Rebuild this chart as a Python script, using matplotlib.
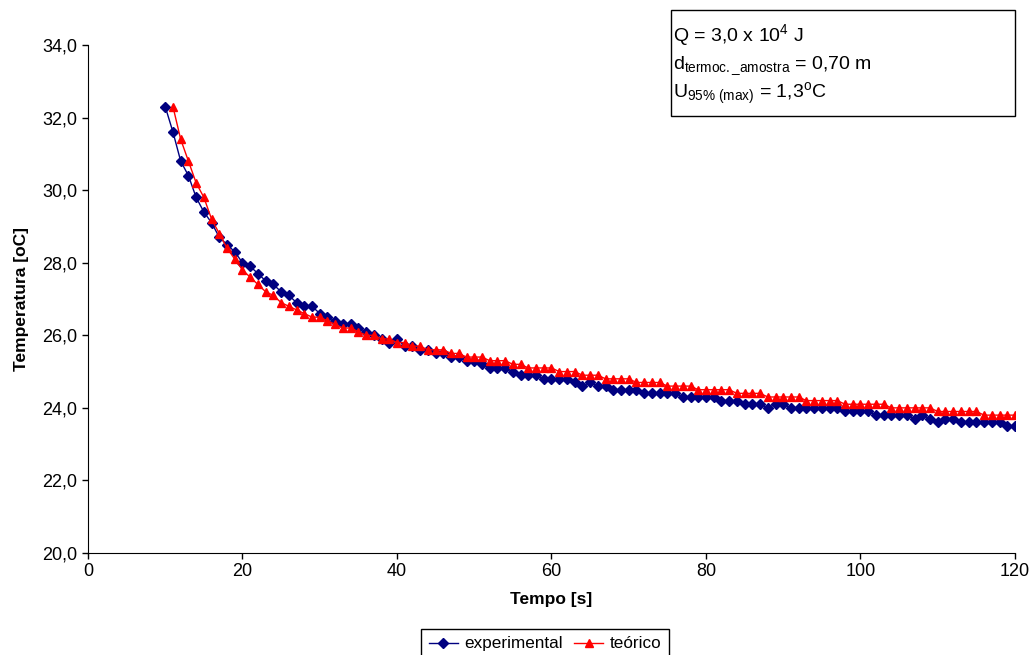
import matplotlib.pyplot as plt
from matplotlib.patches import Rectangle
from matplotlib.ticker import FuncFormatter

plt.rcParams['font.family'] = ['Liberation Sans', 'DejaVu Sans']
plt.rcParams['mathtext.fontset'] = 'custom'
plt.rcParams['mathtext.rm'] = 'Liberation Sans'
plt.rcParams['mathtext.it'] = 'Liberation Sans'

# tempo [s]
t_exp = list(range(10, 121))
t_teo = list(range(11, 121))

# temperatura experimental [oC], t = 10 .. 120
temp_exp = [32.3, 31.6, 30.8, 30.4, 29.8, 29.4, 29.1, 28.7, 28.5, 28.3,
            28.0, 27.9, 27.7, 27.5, 27.4, 27.2, 27.1, 26.9, 26.8, 26.8,
            26.6, 26.5, 26.4, 26.3, 26.3, 26.2, 26.1, 26.0, 25.9, 25.8,
            25.9, 25.7, 25.7, 25.6, 25.6, 25.5, 25.5, 25.4, 25.4, 25.3,
            25.3, 25.2, 25.1, 25.1, 25.1, 25.0, 24.9, 24.9, 24.9, 24.8,
            24.8, 24.8, 24.8, 24.7, 24.6, 24.7, 24.6, 24.6, 24.5, 24.5,
            24.5, 24.5, 24.4, 24.4, 24.4, 24.4, 24.4, 24.3, 24.3, 24.3,
            24.3, 24.3, 24.2, 24.2, 24.2, 24.1, 24.1, 24.1, 24.0, 24.1,
            24.1, 24.0, 24.0, 24.0, 24.0, 24.0, 24.0, 24.0, 23.9, 23.9,
            23.9, 23.9, 23.8, 23.8, 23.8, 23.8, 23.8, 23.7, 23.8, 23.7,
            23.6, 23.7, 23.7, 23.6, 23.6, 23.6, 23.6, 23.6, 23.6, 23.5,
            23.5]

# temperatura teorica [oC], t = 11 .. 120
temp_teo = [32.3, 31.4, 30.8, 30.2, 29.8, 29.2, 28.8, 28.4, 28.1,
            27.8, 27.6, 27.4, 27.2, 27.1, 26.9, 26.8, 26.7, 26.6, 26.5,
            26.5, 26.4, 26.3, 26.2, 26.2, 26.1, 26.0, 26.0, 25.9, 25.9,
            25.8, 25.8, 25.7, 25.7, 25.6, 25.6, 25.6, 25.5, 25.5, 25.4,
            25.4, 25.4, 25.3, 25.3, 25.3, 25.2, 25.2, 25.1, 25.1, 25.1,
            25.1, 25.0, 25.0, 25.0, 24.9, 24.9, 24.9, 24.8, 24.8, 24.8,
            24.8, 24.7, 24.7, 24.7, 24.7, 24.6, 24.6, 24.6, 24.6, 24.5,
            24.5, 24.5, 24.5, 24.5, 24.4, 24.4, 24.4, 24.4, 24.3, 24.3,
            24.3, 24.3, 24.3, 24.2, 24.2, 24.2, 24.2, 24.2, 24.1, 24.1,
            24.1, 24.1, 24.1, 24.1, 24.0, 24.0, 24.0, 24.0, 24.0, 24.0,
            23.9, 23.9, 23.9, 23.9, 23.9, 23.9, 23.8, 23.8, 23.8, 23.8,
            23.8]

fig = plt.figure(figsize=(10.34, 6.55), dpi=100)
ax = fig.add_axes([0.0851, 0.1557, 0.8965, 0.7756])

ax.plot(t_exp, temp_exp, color='#000080', marker='D', markersize=4.8,
        linewidth=1, label='experimental')
ax.plot(t_teo, temp_teo, color='#FF0000', marker='^', markersize=6.3,
        linewidth=1, label='teórico')

ax.set_xlim(0, 120)
ax.set_ylim(20, 34)
ax.set_xticks(range(0, 121, 20))
ax.set_yticks([20, 22, 24, 26, 28, 30, 32, 34])
ax.yaxis.set_major_formatter(FuncFormatter(lambda v, p: f'{v:.1f}'.replace('.', ',')))
ax.tick_params(labelsize=13, direction='out', length=4, width=1)
ax.spines['top'].set_visible(False)
ax.spines['right'].set_visible(False)

ax.set_xlabel('Tempo [s]', fontsize=12.5, fontweight='bold', labelpad=8)
ax.set_ylabel('Temperatura [oC]', fontsize=12.5, fontweight='bold', labelpad=10)

fig.legend(loc='upper center', bbox_to_anchor=(0.527, 0.04), ncol=2,
           fontsize=12.3, frameon=True, fancybox=False, edgecolor='black',
           framealpha=1, handlelength=1.7, handletextpad=0.35,
           columnspacing=0.7, borderpad=0.45, borderaxespad=0)

# caixa de texto
fig.patches.append(Rectangle((0.649, 0.8229), 0.3327, 0.1618,
                             transform=fig.transFigure, fill=False,
                             edgecolor='black', linewidth=1))
x0 = 673 / 1034
fs = 14
fig.text(x0, 1 - 41 / 655, r'Q = 3,0 x 10$^{4}$ J', fontsize=fs, va='baseline')
fig.text(x0, 1 - 69 / 655, r'd$_{\mathrm{termoc.\_amostra}}$ = 0,70 m', fontsize=fs, va='baseline')
fig.text(x0, 1 - 98 / 655, r'U$_{\mathrm{95\%\ (max)}}$ = 1,3$^{\mathrm{o}}$C', fontsize=fs, va='baseline')

fig.savefig('out.png', dpi=100)
